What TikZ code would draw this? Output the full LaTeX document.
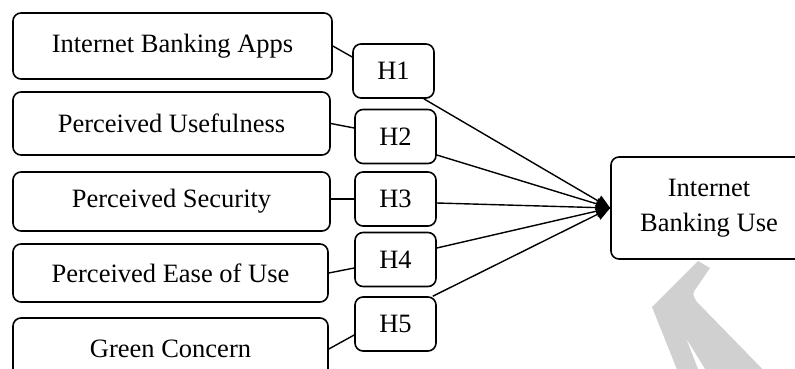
\documentclass[tikz,border=0pt]{standalone}
\usepackage{fontspec}
\setmainfont{Liberation Serif}
\usetikzlibrary{arrows.meta}
\definecolor{wm}{RGB}{208,208,208}
\begin{document}
\begin{tikzpicture}[x=1pt,y=-1pt,
  box/.style={draw, line width=1.6pt, rounded corners=8pt, inner sep=0pt,
    font=\fontsize{26.5}{35}\selectfont, align=center},
  hbox/.style={box, minimum width=81pt, minimum height=54pt},
  link/.style={line width=1.4pt},
  arr/.style={line width=1.4pt, -{Triangle[length=14pt,width=12pt]}}]
\clip (0,0) rectangle (795,369);
\fill[white] (0,0) rectangle (795,369);
% watermark fragment
\fill[wm] (698,261) -- (710,268) -- (697,287) .. controls (692,294) .. (697,302)
  -- (775,382) -- (713,382) -- (686,338) -- (703,382) -- (682,382) -- (652,307) -- cycle;
% source boxes
\node[box, minimum width=319pt, minimum height=66pt] (b1) at (172.5,46) {Internet Banking Apps};
\node[box, minimum width=317pt, minimum height=63pt] (b2) at (171.5,123.5) {Perceived Usefulness};
\node[box, minimum width=317pt, minimum height=59pt] (b3) at (171.5,201.5) {Perceived Security};
\node[box, minimum width=315pt, minimum height=58pt] (b4) at (170.5,273) {Perceived Ease of Use};
\node[box, minimum width=315pt, minimum height=62pt] (b5) at (170.5,349) {Green Concern};
% hypothesis boxes
\node[hbox] (h1) at (393.5,71) {H1};
\node[hbox] (h2) at (395.5,136.5) {H2};
\node[hbox] (h3) at (395.5,199) {H3};
\node[hbox] (h4) at (395.5,259.5) {H4};
\node[hbox] (h5) at (395.5,324) {H5};
% target
\node[box, minimum width=196pt, minimum height=102pt] (t) at (709,208) {Internet\\Banking Use};
% links
\draw[link] (b1.east) -- ([yshift=14pt]h1.west);
\draw[link] (b2.east) -- ([yshift=8.5pt]h2.west);
\draw[link] (h3.west -| b3.east) -- (h3.west);
\draw[link] (b4.east) -- ([yshift=-8.5pt]h4.west);
\draw[link] (b5.east) -- ([yshift=-11pt]h5.west);
% arrows
\draw[arr] ([xshift=-11pt]h1.south east) -- (t.west);
\draw[arr] ([yshift=-18.5pt]h2.east) -- (t.west);
\draw[arr] ([yshift=-4pt]h3.east) -- (t.west);
\draw[arr] ([yshift=11.5pt]h4.east) -- (t.west);
\draw[arr] ([xshift=-4pt]h5.north east) -- (t.west);
\end{tikzpicture}
\end{document}
